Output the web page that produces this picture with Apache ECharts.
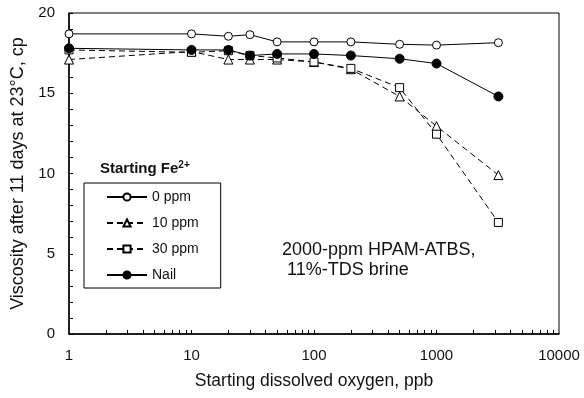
<!DOCTYPE html>
<html><head><meta charset="utf-8">
<script src="https://cdn.jsdelivr.net/npm/echarts@6/dist/echarts.min.js"></script>
<style>html,body{margin:0;padding:0;background:#fff}#c{width:584px;height:398px}</style>
</head><body><div id="c"></div>
<script>
// Data
const oxygenPpb = [1, 10, 20, 30, 50, 100, 200, 500, 1000, 3200];
const fe0ppm  = [18.7, 18.7, 18.55, 18.65, 18.2, 18.2, 18.2, 18.05, 18.0, 18.15];
const fe10ppm = [17.1, 17.6, 17.1, 17.1, 17.1, 16.95, 16.5, 14.8, 12.95, 9.9];
const fe30ppm = [17.7, 17.55, 17.65, 17.35, 17.2, 16.95, 16.55, 15.35, 12.45, 6.95];
const nail    = [17.8, 17.7, 17.7, 17.35, 17.45, 17.45, 17.35, 17.15, 16.85, 14.8];
const seriesNames = ['0 ppm', '10 ppm', '30 ppm', 'Nail'];
const xTickValues = [2,3,4,5,6,7,8,9,10,20,30,40,50,60,70,80,90,100,200,300,400,500,600,700,800,900,1000,2000,3000,4000,5000,6000,7000,8000,9000];
const xLabelValues = [1, 10, 100, 1000, 10000];

const FONT = "'Liberation Sans', Arial, sans-serif";
const pairs = arr => oxygenPpb.map((x, i) => [x, arr[i]]);

const chart = echarts.init(document.getElementById('c'), null, {renderer: 'canvas'});
const base = (name, data, symbol, fill, dashed, size) => ({
  name, type: 'line', data: pairs(data), symbol, symbolSize: size,
  itemStyle: {color: fill, borderColor: '#000', borderWidth: 1},
  lineStyle: {color: '#000', width: 1, type: dashed ? [6, 4] : 'solid'},
  emphasis: {disabled: true}, animation: false, z: 3
});
chart.setOption({
  animation: false,
  grid: {left: 69, right: 25, top: 13, bottom: 64, show: true, borderColor: '#000', borderWidth: 1, backgroundColor: 'transparent'},
  xAxis: {
    type: 'log', logBase: 10, min: 1, max: 10000,
    name: 'Starting dissolved oxygen, ppb', nameLocation: 'middle', nameGap: 38,
    nameTextStyle: {fontFamily: FONT, fontSize: 17.5, color: '#111'},
    axisLine: {show: true, lineStyle: {color: '#000', width: 1.5}},
    axisTick: {show: true, inside: true, length: 4, lineStyle: {color: '#000'}, customValues: xTickValues},
    minorTick: {show: false},
    axisLabel: {fontFamily: FONT, fontSize: 15, color: '#111', margin: 14, customValues: xLabelValues,
      formatter: v => String(Math.round(v))},
    splitLine: {show: false}
  },
  yAxis: {
    type: 'value', min: 0, max: 20, interval: 5,
    name: 'Viscosity after 11 days at 23°C, cp', nameLocation: 'middle', nameGap: 41,
    nameTextStyle: {fontFamily: FONT, fontSize: 18, color: '#111'},
    axisLine: {show: true, lineStyle: {color: '#000', width: 1.5}},
    axisTick: {show: true, inside: true, length: 4, lineStyle: {color: '#000'}},
    minorTick: {show: true, splitNumber: 5, length: 4, lineStyle: {color: '#000'}},
    axisLabel: {fontFamily: FONT, fontSize: 15, color: '#111', margin: 14},
    splitLine: {show: false}
  },
  legend: {
    orient: 'vertical', left: 84, top: 183, data: seriesNames,
    itemWidth: 40, itemHeight: 9, itemGap: 12,
    padding: [7, 22, 6, 22], borderColor: '#000', borderWidth: 1, backgroundColor: '#fff',
    textStyle: {fontFamily: FONT, fontSize: 14, color: '#111'},
    selectedMode: false
  },
  graphic: [
    {type: 'text', left: 100, top: 160, z: 10, style: {
      text: '{b|Starting Fe}{s|2+}',
      rich: {b: {fontFamily: FONT, fontWeight: 'bold', fontSize: 15, fill: '#111', verticalAlign: 'bottom'},
             s: {fontFamily: FONT, fontWeight: 'bold', fontSize: 10, fill: '#111', verticalAlign: 'top', padding: [0,0,6,0]}}
    }},
    {type: 'text', left: 282, top: 240, z: 10, style: {
      text: '2000-ppm HPAM-ATBS,\n 11%-TDS brine', font: "18px 'Liberation Sans', Arial, sans-serif", fill: '#111', lineHeight: 20
    }}
  ],
  series: [
    base(seriesNames[0], fe0ppm, 'circle', '#fff', false, 8),
    base(seriesNames[1], fe10ppm, 'triangle', '#fff', true, 9),
    base(seriesNames[2], fe30ppm, 'rect', '#fff', true, 8),
    base(seriesNames[3], nail, 'circle', '#000', false, 9)
  ]
});
</script></body></html>
